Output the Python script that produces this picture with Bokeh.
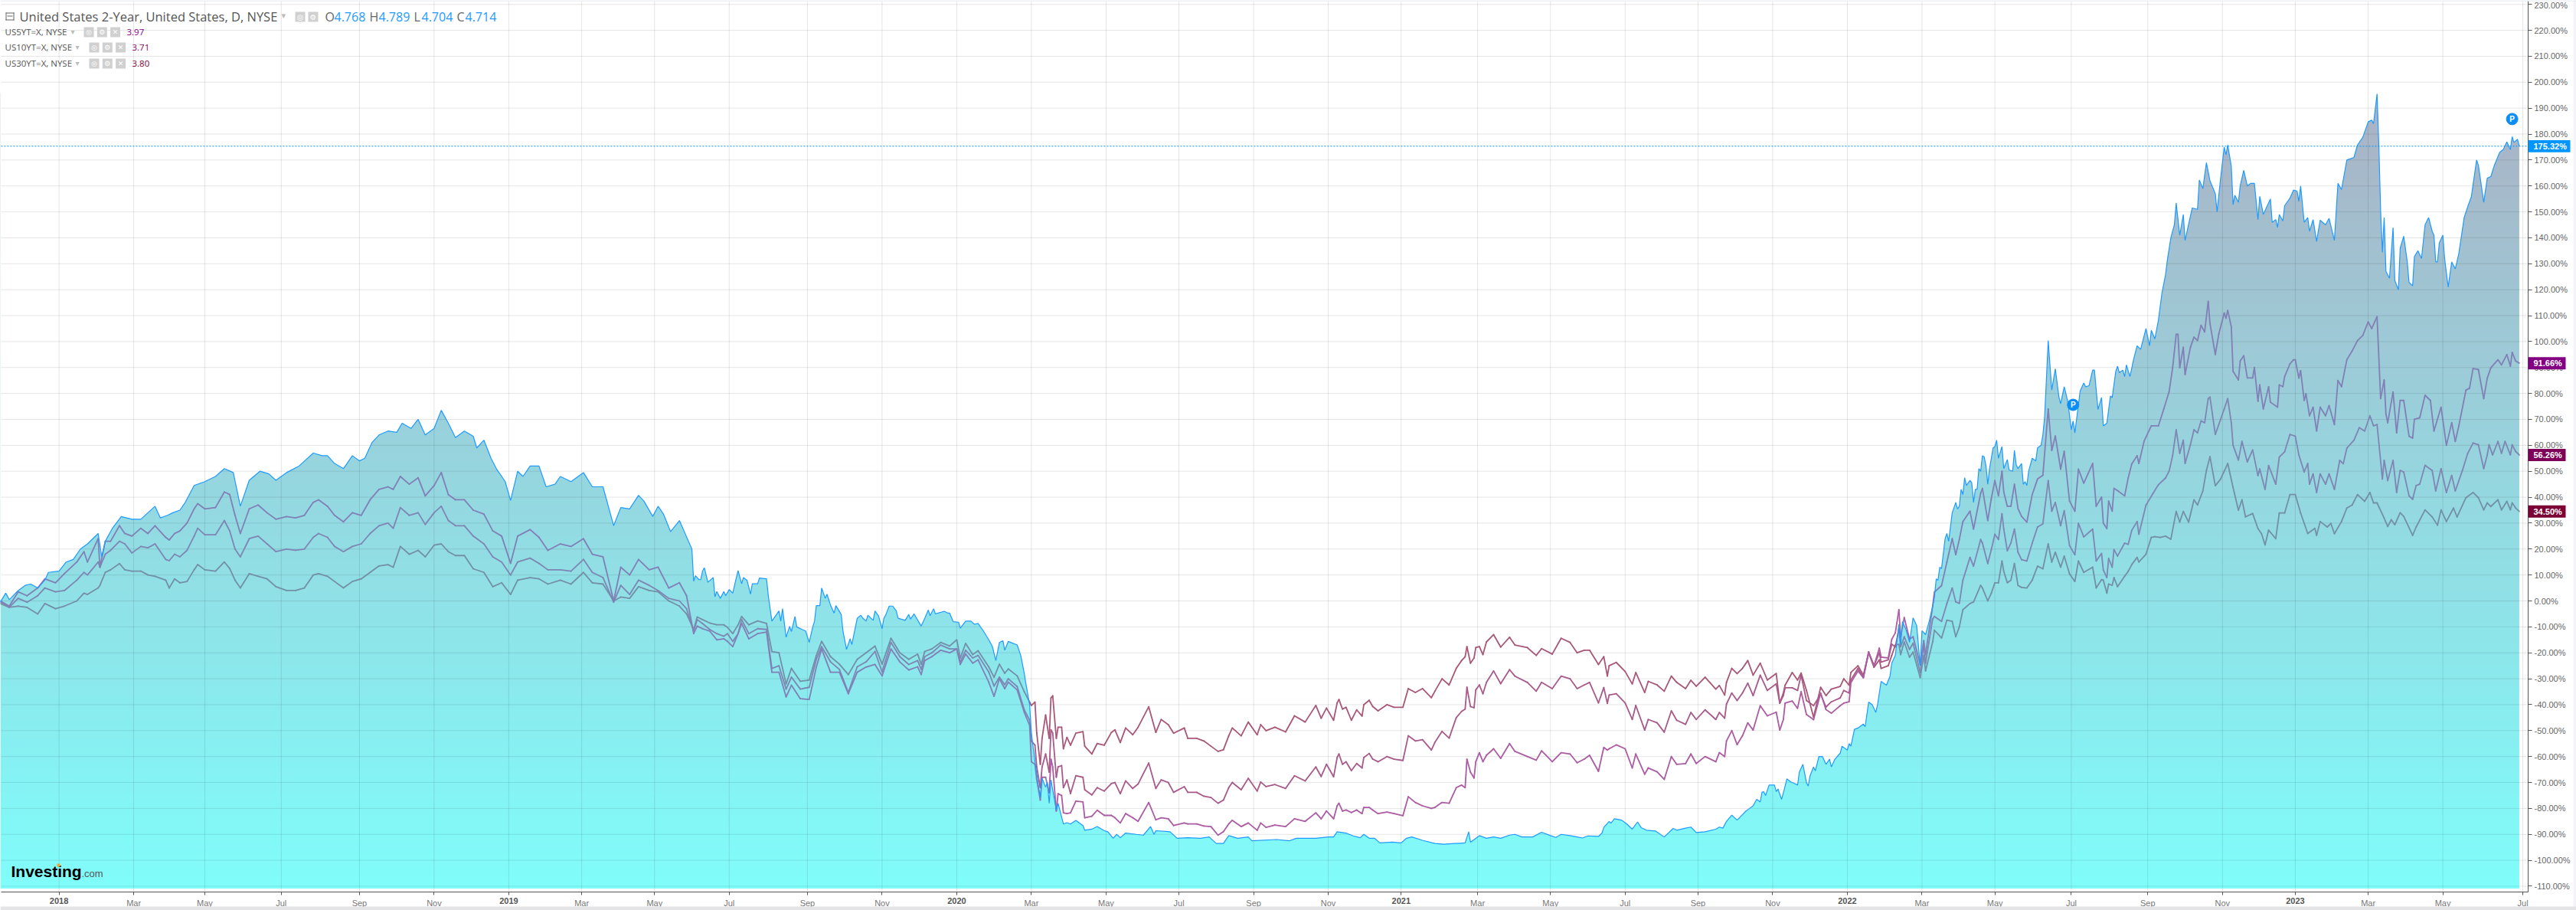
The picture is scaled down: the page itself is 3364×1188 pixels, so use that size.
import numpy as np
from bokeh.core.properties import value
from bokeh.embed import file_html
from bokeh.models import (BoxAnnotation, ColumnDataSource, FixedTicker, Label, LinearAxis,
                          PrintfTickFormatter, Range1d)
from bokeh.plotting import figure
from bokeh.resources import INLINE

# ---- x axis: trading sessions from the start of the series
TICK_SESSIONS = [33, 75, 115, 158, 202, 244, 286, 327, 368, 410, 454, 496, 538, 580, 622, 663, 705, 747,
                 788, 831, 872, 914, 955, 997, 1039, 1081, 1122, 1165, 1208, 1250, 1291, 1332, 1374, 1419]
TICK_LABELS = ["2018", "Mar", "May", "Jul", "Sep", "Nov", "2019", "Mar", "May", "Jul", "Sep", "Nov",
               "2020", "Mar", "May", "Jul", "Sep", "Nov", "2021", "Mar", "May", "Jul", "Sep", "Nov",
               "2022", "Mar", "May", "Jul", "Sep", "Nov", "2023", "Mar", "May", "Jul"]
Y_TICKS = [-110, -100, -90, -80, -70, -60, -50, -40, -30, -20, -10, 0, 10, 20, 30, 40, 50, 60, 70, 80, 90,
           100, 110, 120, 130, 140, 150, 160, 170, 180, 190, 200, 210, 220, 230]

# ---- United States 2-Year (% change)
US2_SESSION = [0, 3, 5, 10, 14, 17, 21, 25, 27, 33, 37, 41, 45, 49, 55, 57, 59, 63, 68, 74, 79, 87, 90, 94, 97, 101,
    104, 109, 115, 121, 126, 131, 135, 140, 146, 151, 155, 161, 168, 176, 181, 184, 188, 193, 198, 202, 205, 209,
    213, 218, 223, 226, 231, 235, 239, 244, 248, 252, 256, 261, 266, 268, 272, 276, 279, 284, 287, 291, 294, 298,
    303, 307, 312, 315, 321, 328, 333, 339, 345, 349, 354, 359, 362, 367, 370, 373, 377, 382, 386,
    389, 390, 391, 393, 394, 395, 396, 398, 401, 402, 403, 405, 407, 408, 410, 412, 414, 415, 417, 418, 420, 422,
    423, 426, 427, 431, 432, 434, 438, 439, 440, 442, 444, 445, 447, 448, 451, 453, 455, 457, 458, 459, 461, 462,
    464, 465, 467, 469, 470, 473, 474, 476, 478, 479, 482, 484, 485, 487, 488, 491, 492, 494, 496, 497, 498, 500,
    502, 504, 505, 509, 511, 512, 514, 518, 520, 522, 523, 525, 526, 531, 533, 534, 536, 539, 540, 543, 546, 548,
    550, 553, 556, 558, 560, 562, 564, 565, 567, 572, 574, 576, 577, 579,
    580, 582, 585, 586, 588, 589, 590, 591, 594, 595, 598, 600, 602, 605, 609, 610, 614, 617, 621, 623, 626, 628,
    630, 633, 639, 643, 647, 649, 650, 658, 662, 668, 675, 680, 684, 688, 691, 696, 702, 704, 718, 725, 729, 740,
    747, 750, 752, 757, 761, 765, 767, 770, 773, 776, 783, 788, 791, 794, 800, 807, 812, 818, 820, 824, 826, 827,
    832, 836, 840, 844, 849, 852, 856, 862, 867, 872, 875, 878, 883, 887, 890, 893, 899, 901, 902, 905, 906, 908,
    912, 915, 918, 921, 923, 926, 931, 936, 941, 943, 948, 951, 954, 959,
    965, 967, 969, 971, 974, 977, 982, 984, 986, 988, 990, 991, 992, 993, 995, 998, 999, 1000, 1002, 1003, 1005,
    1007, 1009, 1011, 1012, 1014, 1016, 1017, 1018, 1020, 1021, 1023, 1025, 1027, 1029, 1030, 1032, 1035, 1036,
    1039, 1040, 1041, 1043, 1045, 1048, 1049, 1051, 1053, 1055, 1056, 1058, 1059, 1061, 1063, 1064, 1066, 1068,
    1069, 1070, 1072, 1074, 1076, 1078, 1080, 1081, 1083, 1085, 1087,
    1088, 1089, 1090, 1091, 1092, 1094, 1095, 1096, 1098, 1100, 1101, 1102, 1103, 1104, 1105, 1106, 1108, 1109,
    1110, 1111, 1112, 1113, 1114, 1115, 1116, 1117, 1118, 1119, 1121, 1122, 1123, 1124, 1126, 1127, 1129, 1130,
    1132, 1133, 1134, 1135, 1137, 1138, 1139, 1140, 1141, 1143, 1145, 1146, 1148, 1149,
    1150, 1152, 1154, 1156, 1158, 1159, 1161, 1163, 1165, 1166, 1167, 1170, 1172, 1173, 1175, 1177, 1178, 1180,
    1182, 1183, 1185, 1187, 1188, 1190, 1191, 1192, 1194, 1195, 1196, 1198, 1200, 1202, 1204, 1207, 1209, 1210,
    1212, 1214, 1216, 1218, 1219, 1221, 1223, 1224, 1226, 1228, 1229, 1233, 1236, 1237, 1239, 1241, 1243, 1246,
    1247, 1249, 1251, 1252, 1253, 1255, 1256, 1257, 1259, 1260, 1262, 1264, 1266, 1268, 1270, 1271, 1273, 1277,
    1278, 1280, 1281, 1282, 1284, 1285, 1288, 1290, 1292, 1293, 1294, 1296, 1298, 1299, 1301, 1303, 1305, 1308,
    1310, 1313, 1315, 1317, 1320, 1324, 1326, 1329, 1332, 1334, 1335, 1337, 1338, 1339, 1340, 1341, 1342, 1344,
    1346, 1347, 1349, 1350, 1352, 1354, 1355, 1357, 1358, 1360, 1362, 1364, 1366, 1368, 1369, 1370, 1371, 1372,
    1374, 1375, 1377, 1379, 1381, 1383, 1386, 1388, 1390, 1393, 1394, 1397, 1399, 1401, 1403, 1406, 1408, 1410,
    1412, 1413, 1414, 1416, 1417]
US2_CHANGE = [-0.4, 3, 0.5, 4, 6, 6.5, 5, 8, 11, 11.5, 15, 16, 20, 22, 26, 17, 23, 28, 32.5, 31.5, 31.5, 36.5, 32, 33, 34, 35,
    38, 44.5, 46, 48, 51, 49.5, 36.5, 46.5, 50, 49, 46.5, 49.5, 52, 57, 56, 56, 53, 51, 56, 54, 55, 61,
    64, 65.5, 65, 68.5, 66.5, 70, 64, 66.5, 73.5, 68.5, 63, 65.5, 63.5, 59, 62, 55, 51, 46, 38.7, 50, 48, 52,
    52, 44, 45, 48, 46, 49.5, 44, 44, 29, 36, 35.5, 40.7, 38.5, 32.6, 36.5, 33.5, 26.7, 31, 24.7,
    20, 7.6, 9.7, 8.2, 8.2, 11.5, 12.8, 7.2, 9, 1.6, 3.6, 1, 3.6, 2, 4.4, 3, 9, 11.7, 6.6, 9, 8, 2.6,
    6.6, 6.6, 8.8, 8.5, 2, -7.8, -3.9, -7.8, -3, -14, -9.8, -11.8, -6, -10, -11, -11.6, -16, -10, -7.8, -1.8, -1.8, 5,
    1, 2.6, -1.6, -4.7, -1.8, -5.2, -11.6, -18.7, -14.6, -16.8, -6.7, -5.5, -6.5, -7.8, -5.5, -7.5, -3.9, -5.8, -10.7, -6.7, -5.5, -2,
    -2, -3.9, -6.7, -7.5, -5.2, -7, -5, -9.7, -6.7, -3.5, -5.7, -3, -5, -4, -4.7, -4.7, -8, -8.2, -10.5, -7.8, -7.8, -9,
    -8.7, -11.6, -15, -17.5, -23, -16, -15.4, -19, -15.6, -17, -21, -28, -32.3, -40,
    -51, -62, -75.8, -68.4, -71.8, -70, -78, -69, -80.7, -78, -86, -85.5, -86, -84.6, -86.6, -88.4, -88, -87, -88.6, -89, -91.5, -90,
    -91.3, -89.5, -90, -90.3, -87, -90, -88.6, -89, -91.5, -91.3, -91.5, -91, -93.5, -93.5, -90.5, -91.5, -91, -92.5, -92, -92.5, -91.5, -91.5,
    -91, -91, -89, -89.5, -90.6, -91.3, -90, -91.5, -91.5, -93.3, -93, -93.3, -91.5, -91, -92.3, -93.5, -93.8, -93.5, -93.5, -93.3, -89, -93,
    -90.5, -91.5, -91, -91.5, -90.3, -90, -91, -91, -89.2, -90.5, -91.2, -90, -90.5, -91, -91.4, -90.6, -90.8, -89.5, -87.3, -85, -85.7, -84,
    -84.5, -86, -88, -85.2, -87.4, -88.4, -88.7, -91, -87.7, -88.4, -87.6, -87.2, -89.3, -89,
    -88, -87.2, -87.6, -85, -82.6, -84.5, -81, -80, -79, -76.5, -77.5, -73.7, -73.6, -75, -71, -71, -73.5, -72.5, -76.5, -74, -68.6,
    -69.7, -70.3, -71, -66, -63, -70, -71.4, -67.5, -64, -65.5, -60, -60, -63, -61, -64, -61, -58.7, -56,
    -57.5, -55, -56, -49.5, -49, -47.5, -48.5, -39, -40, -43, -40, -31, -31.5, -32.5, -29, -24, -21, -9,
    -17, -8, -11, -16, -6.5, -9.5, -25, -11.5, -13, -8, -2,
    1.5, 8.5, 8, 13, 12.5, 24, 26, 23, 34, 38, 35.5, 36.5, 43, 41, 47.5, 44.5, 46.5, 45.5,
    38, 43, 43, 51, 50, 56, 55.5, 52, 45, 51, 59, 59.5, 62, 55, 59.5, 51, 54.5, 50.5,
    50, 58, 52.5, 51, 53, 45, 46, 44.5, 50, 55, 54, 59, 60, 64,
    71, 100.4, 81.3, 89.5, 78.7, 76, 82.6, 77, 66, 69.4, 64.8, 81, 84, 82.6, 83, 89, 89, 73.8,
    78.4, 67.5, 68.5, 79, 78.4, 88.5, 90.5, 88, 89, 86.5, 91, 86.5, 93, 98.4, 97, 105, 98.4, 104.3,
    101, 108.3, 118.8, 125.7, 131.3, 140, 145.2, 153.4, 141, 149, 139, 151.5, 151, 162.3, 159, 169, 162, 157,
    150, 163, 175, 172, 175.8, 167.6, 152.8, 156.4, 153.7, 160, 166, 160, 161, 161, 147, 156, 149, 155,
    146, 147, 144, 149, 146.5, 152.4, 155.3, 158.4, 158, 154, 160, 146, 147.8, 142.5, 147, 138.6, 146.8, 145,
    147.5, 139, 161, 158.6, 170, 171, 175.8, 178.8, 184.7, 185.4, 184, 195.5, 175.5, 150.5, 134.4, 147.8, 127, 124.4,
    143.9, 123.5, 120, 136, 140.6, 130.7, 122.8, 121.5, 132.7, 135, 132, 145, 147.8, 142.5, 141, 130.7, 130.7, 138,
    141, 132, 121, 130.7, 128, 134, 147.8, 152, 155.7, 170, 168, 153.7, 163, 163.6, 168, 173, 174, 177,
    174, 179, 176.8, 178, 175.32]

# ---- sessions shared by the 5Y, 10Y and 30Y readings up to mid-2022
SHARED_SESSION = [0, 5, 10, 15, 21, 25, 31, 36, 43, 47, 49, 55, 56, 59, 62, 67, 70, 74, 79, 83, 87, 93, 95, 98, 101, 105,
    109, 111, 115, 121, 126, 129, 132, 135, 140, 145, 150, 155, 161, 166, 171, 176, 179, 184, 188, 193, 198, 203,
    208, 213, 218, 221, 225, 230, 235, 239, 244, 248, 252, 256, 261, 266, 272, 277, 282, 287, 291, 298, 303, 308,
    315, 321, 328, 333, 339, 345, 349, 354, 359, 365, 370, 376, 382, 386,
    390, 392, 395, 399, 403, 407, 409, 412, 415, 417, 421, 426, 431, 434, 438, 442, 445, 450, 455, 459, 462, 467,
    472, 477, 482, 487, 492, 496, 501, 506, 511, 516, 518, 520, 524, 529, 534, 538, 540, 543, 547, 550, 556, 559,
    562, 565, 567, 572, 576,
    579, 580, 582, 583, 585, 586, 588, 590, 591, 592, 594, 595, 597, 598, 600, 602, 605, 609, 610, 614, 617, 621,
    625, 627, 630, 633, 637, 640, 646, 650, 653, 657, 660, 666, 668, 673, 677, 681, 685, 688, 691, 693, 698, 702,
    707, 709, 712, 717, 723, 728, 734, 740, 743, 746, 750,
    752, 753, 755, 757, 760, 763, 766, 767, 770, 772, 775, 780, 784, 789, 792, 796, 800, 805, 807, 811, 815, 819,
    822, 824, 825, 827, 829, 830, 832, 834, 836, 840, 844, 849, 852, 859, 864, 867, 873, 878, 883, 887, 891, 894,
    899, 902, 904, 905, 909, 914, 918, 920, 925, 927, 932, 936, 940, 943, 948, 951, 954, 959, 965, 967, 970, 971, 974,
    977, 980, 983, 986, 990, 994, 999, 1001, 1003, 1004, 1008, 1011, 1013, 1016, 1020, 1024, 1027, 1030, 1035, 1037,
    1040, 1041, 1045, 1048, 1051, 1054, 1057, 1058, 1062, 1064, 1066, 1068, 1069, 1071, 1074, 1076, 1080, 1082,
    1083, 1087, 1088, 1092,
    1095, 1098, 1100, 1102, 1104, 1108, 1110, 1114, 1115, 1118, 1120, 1122, 1124, 1126, 1127, 1129, 1131, 1133,
    1135, 1137, 1140, 1143, 1146, 1149, 1152, 1154, 1156, 1159, 1161, 1164, 1167, 1169, 1172, 1177, 1179, 1182,
    1183, 1185, 1186, 1188, 1189, 1191, 1195, 1197, 1199, 1202, 1203]

US5_SHARED = [0, -2, 3.5, 2, 5, 8.5, 7, 10.5, 15, 19, 15, 24, 13, 23, 23, 29, 26, 25, 28, 26, 29, 24.5, 23.5, 26, 27, 30,
    35.5, 37.5, 35.5, 36, 42, 41, 33, 26, 35.5, 37, 34, 31.5, 32.5, 32, 33, 38, 39, 36.5, 33, 30.5, 34, 33,
    39, 43, 44, 43, 48, 45, 47.5, 40.5, 44.5, 49.5, 41, 39, 39, 35, 33.5, 27, 25, 14.5, 25, 27.5, 24.5, 19.5,
    22, 21, 24, 18, 17, 0, 13, 10, 16, 12, 13, 5, 7, 2,
    -12.6, -9.7, -10.7, -11.6, -15, -14.6, -15.6, -17.6, -12.6, -8.7, -14.6, -12.6, -12, -27.5, -27.5, -37, -32.5, -37.7, -38, -25.5, -18.5, -27.5,
    -27.5, -35.8, -27.5, -25.5, -24.5, -28.9, -18.5, -23.5, -26.6, -25.4, -28.4, -23, -21.5, -19, -20, -18.5, -24.5, -20.5, -24, -22.7, -31.3, -36.8,
    -30, -33.8, -31.3, -34.3, -43,
    -48, -62, -63, -69, -76.8, -68, -68, -74, -61, -64, -81, -74.3, -75, -81.7, -82, -81.7, -77.2, -77.5, -83.6, -83, -80.7, -82.7,
    -82.7, -83.6, -85.6, -82, -83.6, -85, -77.7, -84.4, -83.6, -84, -86.6, -85.6, -86, -86, -86.8, -87, -90.3, -89, -86, -84.6, -87, -85.6,
    -88.4, -85.6, -87.3, -86.4, -87, -84, -85, -81.7, -84, -81, -84,
    -79, -78, -81, -80.6, -81.6, -80.6, -82, -79.6, -79.6, -80.6, -82, -81.4, -82, -82.8, -75.5, -77.7, -79, -80, -79.6, -77.7, -78, -72,
    -71, -72, -61, -66, -68.3, -62, -58.5, -62, -59.5, -57, -60.7, -55, -58, -60, -61.4, -57.8, -62, -58.5, -59, -62.4, -61, -59.5,
    -65.7, -56.5, -57.5, -57, -55.5, -57, -64.4, -59, -66.8, -64.4, -65.9, -68.8, -60, -63, -62.7, -59, -62.7, -60, -62, -58.5, -60, -54, -50,
    -55.4, -52, -47, -49.8, -40.4, -44.3, -42.9, -49.8, -45.8, -39.4, -38.6, -41.4, -35, -43.8, -45.8, -35.5, -41.9, -43.3, -40.4, -39.4,
    -38.9, -31.5, -27, -29.6, -19.7, -25, -18.2, -21.7, -22, -14.8, -12.3, -3.4, -13.8, -6.4, -14.8, -13.8, -24.6, -15.3,
    -20.7, -2, 3.4, 5.9,
    15, 24, 17.8, 23.7, 30.6, 34.6, 27.7, 41.5, 43.4, 31, 39.5, 46.4, 40.5, 50, 42, 36.5, 36.5, 45,
    35.6, 32.6, 30.4, 41, 47, 48.4, 74, 58, 63.6, 50.8, 57.7, 38.5, 34.6, 50.8, 45.4, 53, 36.5, 40,
    30, 27.9, 38.5, 34.6, 43.4, 42.5, 40.5, 47.4, 52.8, 56, 53]

US10_SHARED = [-0.4, -2.5, 1, -0.5, 2, 5, 3.5, 4, 8, 11, 10, 15, 13, 18, 19.5, 23, 22, 18.5, 21, 20.5, 22, 16, 15.5, 18, 17, 19.5,
    25, 28, 25.5, 25.5, 31, 27, 20, 17, 24, 25, 22, 19, 20, 19.5, 20, 24.5, 26, 24.5, 21, 19, 21, 22,
    26, 29, 30, 28, 36, 33, 34, 29.5, 34, 36.5, 31, 29, 29, 25, 22, 17, 15, 10, 15, 16.5, 14.5, 12,
    12, 11.5, 16, 11, 9, -0.5, 6, 2.5, 8, 6, 4, 1, 0, -3,
    -11.6, -7.2, -8.7, -11, -12.6, -13.6, -12.6, -15.6, -12.6, -7.2, -12.6, -10.7, -11, -26, -25, -34, -29.4, -34, -33.3, -22.5, -17.6, -23.5,
    -26.4, -35.3, -25.4, -23.5, -19.5, -27.4, -16, -21.5, -24.5, -23, -26.4, -21.5, -20, -17, -18.5, -18.5, -23.5, -19, -22, -21, -27.4, -32.8,
    -29.4, -32.3, -30, -33, -42,
    -46, -54, -55.6, -64, -72, -64, -59, -66, -49.7, -51, -68, -64, -63.5, -72, -69, -74.3, -67.4, -68, -72.8, -74.8, -72, -73.3,
    -70.4, -70, -74.3, -69.4, -72.3, -70.6, -62.5, -72.3, -69, -70, -73.8, -71.6, -73.8, -73.8, -75.3, -75.8, -78, -76.8, -72, -70, -72.8, -68.4,
    -73.3, -69.8, -71.6, -70.8, -72.3, -67.4, -69.4, -64, -67.7, -63, -67.8,
    -60.4, -59, -63, -62, -65.4, -62.7, -64.4, -60.4, -58.8, -61, -62, -60, -61, -61.5, -52, -54, -53.5, -57.5, -54.5, -50.3, -52.9, -45,
    -42.6, -41.7, -33.3, -40.7, -41.2, -34.3, -32.4, -35.8, -31.4, -27, -31.9, -26.5, -29, -31.4, -34.8, -31.4, -33.8, -29, -30, -33.8, -32.4, -31.4,
    -39.3, -33.4, -39.5, -36.3, -35.8, -39.3, -45.7, -40.3, -49.8, -45.7, -47, -50.6, -42.4, -46, -47.6, -43, -45.7, -42, -45.7, -43, -45.2, -39.8, -35.5,
    -38.4, -35.5, -31.7, -36.5, -28.6, -34.5, -32, -39.4, -36.5, -33.5, -33.5, -34.5, -28.6, -38.4, -40.4, -36, -40.9, -38.9, -37.4, -34.5,
    -35.5, -30.5, -26, -29.6, -19.7, -25, -20, -23.6, -22.7, -16.7, -17.7, -10.8, -17.7, -13.8, -18.7, -16.3, -27.6, -16.7,
    -24, -7, -6, -7.9,
    -1, 5, -0.4, -0.9, 8, 16.8, 13.4, 23.7, 22.3, 14.4, 19.8, 25.7, 23.7, 33.6, 27.7, 19.3, 22.3, 27.7,
    18.8, 15.9, 15.4, 22.3, 28.5, 29.7, 46.4, 34.6, 38, 29, 34.8, 21.3, 17.8, 29.9, 24.7, 27.7, 15.4, 18.3,
    11.9, 9, 16.4, 13, 19.8, 17.3, 22.3, 21.8, 27.2, 30.6, 25.7]

US30_SHARED = [-1, -2.5, -2, -2.5, -5, -1, -3, -2, 0, 3, 2.5, 5, 6, 11, 12, 14.4, 12, 11.5, 11.5, 10, 9.5, 8, 5, 8.5, 7, 7.5,
    12, 14, 12, 11.5, 15, 12.5, 8, 5, 10.5, 9.5, 8.5, 5.5, 4, 4, 5, 10, 10.5, 9.5, 7.5, 5, 7.5, 8.5,
    11, 13.5, 14, 13, 21, 18, 19.5, 17, 21.5, 22, 19, 17.5, 17.5, 12.4, 11, 5.5, 7, 2.5, 8, 9, 8.5, 6.5,
    8, 6.5, 11, 7, 6.5, 0, 1.5, 1, 5.5, 4, 3.5, 0, -2, -5,
    -11, -6.2, -7.2, -8.5, -9.2, -9.2, -10.2, -12.6, -9.2, -6, -9.2, -7.7, -8.7, -19.5, -20, -32, -26, -31, -30.5, -21, -15.6, -21.5,
    -24.4, -28.4, -22.5, -20, -17.4, -24.4, -14.4, -20, -22.5, -20.5, -24.4, -19.5, -18.5, -16, -17.4, -15, -22, -16.4, -20.7, -19.2, -25.4, -29.4,
    -24.4, -27.9, -26.2, -28.9, -35,
    -39, -40.3, -39, -51, -63, -53, -44, -53, -37.4, -36.6, -53, -48.7, -48.7, -57, -52.6, -55.6, -51, -50.4, -56, -59, -55, -55.6,
    -50.7, -49.7, -54.6, -49, -51.6, -48.7, -40.8, -50.7, -45.7, -47.7, -51, -49, -53, -53, -54, -56, -58, -57.4, -52, -49, -52, -46.7,
    -51.6, -47.7, -50, -48.7, -50.5, -44.3, -46.7, -40.3, -45.2, -41.3, -46,
    -39.3, -38, -41.7, -41, -46, -42, -44.4, -40, -38.3, -40.7, -42.4, -40, -41, -41, -33.8, -35.3, -33.8, -37.3, -34.8, -30, -32.4, -26,
    -23, -21.5, -17.6, -24, -22, -18, -17.6, -20.7, -15.8, -13, -17.8, -14, -17, -18, -21, -18.4, -20.5, -14.4, -16, -20, -19, -19,
    -24.5, -21.5, -29, -25, -23.7, -27.2, -32, -27.6, -35.3, -31, -32.4, -34.8, -29, -31.4, -33.8, -30.6, -32.9, -29.4, -34, -32.6, -36.3, -31.4, -26,
    -28, -26, -23, -28.6, -24, -30.5, -28, -39.4, -35.5, -32.5, -27.6, -30.5, -27.8, -34.5, -44.8, -33.3, -36.5, -34, -33, -30,
    -32.5, -27.6, -25, -28.6, -20, -25.6, -22.7, -26, -25, -21, -17, -16.7, -20.7, -15.8, -21.7, -19.7, -29.6, -21,
    -27, -15.8, -11.3, -14.3,
    -7.4, -7.9, -13.8, -10, -3.4, -1, -0.4, 6, 5, 0, 3, 7, 7, 15.4, 11.4, 7, 8, 14.4,
    6, 5.2, 5, 8, 13.4, 12.4, 22, 15, 18.8, 13, 17.3, 10.4, 7.5, 15.4, 11, 13, 5, 8.2,
    8, 3, 6.5, 6, 9, 5.5, 9.5, 11.4, 14, 16.8, 15]

# ---- readings after mid-2022, each series on its own sessions
US5_TAIL_SESSION = [1206, 1210, 1214, 1217, 1220, 1222, 1224, 1225, 1226, 1228, 1229, 1232, 1234, 1236, 1238, 1240, 1242, 1243,
    1246, 1248, 1251, 1252, 1253, 1255, 1256, 1259, 1260, 1262, 1264, 1267, 1268, 1270, 1271, 1273, 1276, 1277, 1281, 1282,
    1284, 1285, 1288, 1290, 1291, 1293, 1294, 1296, 1297, 1299, 1301, 1303, 1305, 1308, 1310, 1313, 1315, 1317, 1320, 1323,
    1326, 1329, 1332, 1334, 1337, 1339, 1341, 1342, 1343, 1346, 1348, 1350, 1352, 1355, 1357, 1358, 1361, 1364, 1367, 1369,
    1373, 1376, 1379, 1381, 1383, 1387, 1389, 1391, 1394, 1397, 1399, 1401, 1405, 1407, 1410, 1412, 1413, 1415, 1417]
US5_TAIL = [61.7, 67.5, 67.5, 74, 80.6, 89.9, 102.8, 102.8, 89.9, 97.8, 87.3, 97.8, 101.7, 100.4, 106.3, 103.7, 115.5, 107,
    95, 103, 111, 109, 112, 105.7, 88.5, 85.2, 92.5, 94.5, 86, 86, 90, 77, 83.3, 74, 82.6, 76.6, 74.7, 83.3,
    82.6, 86.5, 91.4, 93, 93, 85.9, 88.8, 77.3, 79.9, 71.4, 74.7, 65.5, 74.7, 71.4, 75.3, 68, 85, 82.6, 93, 96.4,
    100.4, 102.4, 107.6, 105, 109.6, 78, 85.2, 72, 68.7, 80.6, 64.8, 77.3, 77.3, 63.5, 62.8, 70, 70.6, 79.3, 77.3, 65.5,
    74.7, 60, 68.7, 61.5, 67.5, 81.3, 82, 89.6, 89.2, 78, 85.9, 89.9, 93, 91, 95, 90.5, 95.8, 92.5, 91.66]

US10_TAIL_SESSION = [1207, 1211, 1214, 1218, 1220, 1222, 1224, 1226, 1228, 1229, 1232, 1234, 1236, 1238, 1240, 1242, 1243, 1246,
    1249, 1251, 1253, 1255, 1256, 1259, 1261, 1264, 1267, 1270, 1271, 1274, 1276, 1280, 1282, 1285, 1288, 1291, 1293, 1296,
    1298, 1299, 1301, 1303, 1305, 1308, 1310, 1313, 1316, 1318, 1320, 1324, 1327, 1330, 1333, 1335, 1337, 1340, 1341, 1343,
    1346, 1348, 1350, 1352, 1355, 1357, 1359, 1361, 1364, 1368, 1370, 1373, 1376, 1379, 1381, 1385, 1388, 1391, 1394, 1397,
    1399, 1400, 1402, 1405, 1407, 1409, 1412, 1413, 1415, 1417]
US10_TAIL = [36.9, 41.5, 44.8, 47.4, 50, 56, 66, 56.9, 62, 53, 60.2, 66, 64.8, 69.4, 68.7, 78, 78.6, 64.2,
    70, 74, 78, 68.7, 60, 54.3, 61.5, 53.6, 58.2, 48.3, 50.9, 43, 52.2, 45, 55.5, 57.5, 64.2, 63.5, 56.3, 49.7,
    53, 45, 49, 41.8, 49, 45, 49, 43, 54.2, 52.9, 58.9, 62, 66.8, 65.5, 71.4, 67.5, 68, 47, 54.2, 46.4,
    54.2, 41.8, 50.3, 49.7, 40.5, 39.2, 44.5, 45, 52.3, 50.3, 42.4, 51, 41.8, 48.4, 42.4, 50.3, 56.9, 60.9, 60.2, 51,
    56.3, 60.2, 56.3, 61.5, 56.9, 61.5, 56.3, 60.2, 57.6, 56.26]

US30_TAIL_SESSION = [1207, 1210, 1212, 1215, 1218, 1221, 1224, 1226, 1228, 1231, 1234, 1236, 1239, 1241, 1243, 1246, 1249, 1253,
    1256, 1259, 1261, 1263, 1267, 1270, 1272, 1274, 1276, 1280, 1282, 1285, 1288, 1291, 1294, 1298, 1302, 1303, 1305, 1309,
    1311, 1313, 1317, 1320, 1323, 1326, 1330, 1333, 1335, 1337, 1341, 1343, 1345, 1347, 1350, 1352, 1357, 1359, 1364, 1368,
    1371, 1373, 1376, 1380, 1382, 1387, 1391, 1394, 1397, 1399, 1401, 1405, 1407, 1410, 1412, 1413, 1415, 1417]
US30_TAIL = [18, 24.5, 24.8, 24.5, 25, 23.8, 34.5, 30.4, 34.5, 30.4, 39, 37, 42.4, 50.3, 55.6, 44.4, 47, 53,
    43.7, 35, 39, 32.4, 33.7, 27.9, 25.9, 21.6, 27.3, 24, 33.9, 33.9, 41, 41, 33.9, 26, 28, 25.3, 30.6, 28.5,
    29.9, 25.9, 30.6, 35.8, 37, 41, 38.4, 41.8, 37.8, 37.8, 31.9, 28.7, 31.3, 29.4, 34, 32.6, 25.3, 28.5, 35.1, 32.4,
    29.2, 35.1, 30.6, 35.8, 32.4, 39.8, 41.8, 39.8, 35.1, 37.8, 36.4, 39, 35.1, 38.4, 35.1, 37.8, 35.8, 34.5]

LAST_VALUES = {"2Y": 175.32, "5Y": 91.66, "10Y": 56.26, "30Y": 34.50}
NOTE_SESSION = [1166, 1413]
NOTE_VALUE = [75.6, 185.8]

# ---- layout in page pixels (the frame fills the figure; the axes sit at fixed places inside it)
W, H = 3364, 1188
AX_X_PX, AX_Y_PX = 3301, 1164
PX_PER_SESSION = 2.3214
Y0_PX, PX_PER_PCT = 784.0, 3.386
FONT = "Liberation Sans"
HEAD = "Open Sans"
BLUE = "#0095ff"

AX_SESSION = AX_X_PX / PX_PER_SESSION
AX_VALUE = (Y0_PX - AX_Y_PX) / PX_PER_PCT
TOP_VALUE = (Y0_PX - 1) / PX_PER_PCT

p = figure(width=W, height=H, output_backend="svg", toolbar_location=None,
           x_range=Range1d(0, W / PX_PER_SESSION), y_range=Range1d((Y0_PX - H) / PX_PER_PCT, Y0_PX / PX_PER_PCT),
           x_axis_type=None, y_axis_type=None, min_border=0,
           outline_line_color=None, background_fill_color="white", border_fill_color="white")

xax = LinearAxis(ticker=FixedTicker(ticks=TICK_SESSIONS), fixed_location=AX_VALUE, bounds=(0.4, AX_SESSION),
                 axis_line_color="#555555", axis_line_width=1,
                 major_tick_line_color="#555555", major_tick_out=4, major_tick_in=0, minor_tick_line_color=None,
                 major_label_text_font=FONT, major_label_text_font_size="11px", major_label_text_color="#777777",
                 major_label_standoff=4,
                 major_label_overrides={t: (l if not l.isdigit() else " ") for t, l in zip(TICK_SESSIONS, TICK_LABELS)})
p.add_layout(xax, "below")
yax = LinearAxis(ticker=FixedTicker(ticks=Y_TICKS), formatter=PrintfTickFormatter(format="%.2f%%"),
                 fixed_location=AX_SESSION, bounds=(AX_VALUE, TOP_VALUE),
                 axis_line_color="#555555", axis_line_width=1, major_tick_line_color="#555555",
                 major_tick_out=5, major_tick_in=0, minor_tick_line_color=None,
                 major_label_text_font=FONT, major_label_text_font_size="11px", major_label_text_color="#666666",
                 major_label_standoff=3)
p.add_layout(yax, "right")

# gradient under the 2-year line: image below, white mask above the series
FILL_LOW, FILL_HIGH = -110.9, 196.0
c0, c1 = np.array([0x80, 0xFD, 0xFB]), np.array([0xAB, 0xB2, 0xC5])
t = np.linspace(0, 1, 256)
rgb = (c0[None, :] * (1 - t[:, None]) + c1[None, :] * t[:, None]).astype(np.uint32)
img = (255 << 24 | rgb[:, 2] << 16 | rgb[:, 1] << 8 | rgb[:, 0]).astype(np.uint32).reshape(256, 1)
p.image_rgba(image=[img], x=[0], y=[FILL_LOW], dw=[US2_SESSION[-1]], dh=[FILL_HIGH - FILL_LOW], level="image")
p.varea(x=US2_SESSION, y1=US2_CHANGE, y2=[240] * len(US2_SESSION), fill_color="white", fill_alpha=1.0, level="underlay")

# grid shows through the area, so it goes over it
p.segment(x0=TICK_SESSIONS, x1=TICK_SESSIONS, y0=[AX_VALUE] * len(TICK_SESSIONS), y1=[TOP_VALUE] * len(TICK_SESSIONS),
          line_color="#000000", line_alpha=0.10, line_width=1, level="underlay")
p.segment(x0=[0.4] * len(Y_TICKS), x1=[AX_SESSION] * len(Y_TICKS), y0=Y_TICKS, y1=Y_TICKS,
          line_color="#000000", line_alpha=0.10, line_width=1, level="underlay")


def draw_yield(x, y, over_white, under_area):
    x, y = np.asarray(x, float), np.asarray(y, float)
    mx, my = (x[:-1] + x[1:]) / 2, (y[:-1] + y[1:]) / 2
    under = my <= np.interp(mx, US2_SESSION, US2_CHANGE)
    src = ColumnDataSource(dict(x0=x[:-1], x1=x[1:], y0=y[:-1], y1=y[1:],
                                c=[under_area if u else over_white for u in under]))
    p.segment("x0", "y0", "x1", "y1", source=src, line_color="c", line_width=1.8, line_cap="round")


draw_yield(SHARED_SESSION + US30_TAIL_SESSION, US30_SHARED + US30_TAIL, "#a85876", "#7390a8")
draw_yield(SHARED_SESSION + US10_TAIL_SESSION, US10_SHARED + US10_TAIL, "#a85a8a", "#7e86b3")
draw_yield(SHARED_SESSION + US5_TAIL_SESSION, US5_SHARED + US5_TAIL, "#ab5ca3", "#8080b6")

p.line(US2_SESSION, US2_CHANGE, line_color="#1e9aff", line_width=1.2)
p.line([0.4, AX_SESSION], [LAST_VALUES["2Y"]] * 2, line_color=BLUE, line_width=1, line_dash="2 2")

p.scatter(NOTE_SESSION, NOTE_VALUE, size=15, marker="circle", fill_color="#0b8ef5", line_color="#0b8ef5")
p.text(NOTE_SESSION, NOTE_VALUE, text=["P", "P"], text_color="white", text_font=value(FONT), text_font_style="bold",
       text_font_size="10px", text_align="center", text_baseline="middle")


def box(l, r, t_, b, color):
    p.add_layout(BoxAnnotation(left=l, right=r, top=t_, bottom=b, left_units="canvas", right_units="canvas",
                               top_units="canvas", bottom_units="canvas", fill_color=color, fill_alpha=1.0,
                               line_color=None, editable=False))


def txt(x, y, s, color="#555555", size="11px", font=FONT, style="normal", align="left"):
    p.add_layout(Label(x=x, y=H - y, x_units="screen", y_units="screen", text=s, text_color=color,
                       text_font_size=size, text_font=font, text_font_style=style, text_align=align,
                       text_baseline="middle"))


def tag(val, right, color):
    p.add_layout(BoxAnnotation(left=AX_X_PX, right=right, top=val + 2.36, bottom=val - 2.36, left_units="canvas",
                               right_units="canvas", top_units="data", bottom_units="data", fill_color=color,
                               fill_alpha=1.0, line_color=None, editable=False))
    p.add_layout(Label(x=AX_X_PX + 7, y=val, x_units="screen", y_units="data", text=f"{val:.2f}%", text_color="white",
                       text_font=FONT, text_font_size="11px", text_font_style="bold", text_baseline="middle"))


# page furniture
box(3360, W, 0, H, "#f3f3f8")
box(0, W, 1183, H, "#e4e4e7")
box(0, W, 0, 1, "#dfe3ea")

# year labels
for s, l in zip(TICK_SESSIONS, TICK_LABELS):
    if l.isdigit():
        p.add_layout(Label(x=s, y=H - 1175, x_units="data", y_units="screen", text=l, text_color="#555555",
                           text_font=FONT, text_font_size="11px", text_font_style="bold", text_align="center",
                           text_baseline="middle"))

# last-value tags
tag(LAST_VALUES["2Y"], 3356, BLUE)
tag(LAST_VALUES["5Y"], 3350, "#820082")
tag(LAST_VALUES["10Y"], 3350, "#7e0058")
tag(LAST_VALUES["30Y"], 3350, "#7d0034")

# legend header
for a, b_, c_, d_ in [(7, 18, 16, 17), (7, 18, 25, 26), (7, 8, 16, 26), (17, 18, 16, 26), (9, 16, 20, 21)]:
    box(a, b_, c_, d_, "#666666")
txt(25, 21, "United States 2-Year, United States, D, NYSE", "#555555", "16.5px", HEAD)
txt(367, 20, "▾", "#bbbbbb", "11px", "DejaVu Sans")
for l_ in (385, 402):
    box(l_, l_ + 13, 15, 28, "#d0d0d0")
txt(391.5, 21.5, "◎", "white", "10px", "DejaVu Sans", align="center")
txt(408.5, 21.5, "⚙", "white", "10px", "DejaVu Sans", align="center")
for x_, s_, col in [(424, "O", "#666666"), (436, "4.768", "#1e9aff"), (482, "H", "#666666"), (494, "4.789", "#1e9aff"),
                    (540, "L", "#666666"), (550, "4.704", "#1e9aff"), (596, "C", "#666666"), (607, "4.714", "#1e9aff")]:
    txt(x_, 21, s_, col, "16px", HEAD)

ROWS = [("US5YT=X, NYSE", "3.97", "#8b008b", 41, 92, 109, 165),
        ("US10YT=X, NYSE", "3.71", "#8b0060", 61, 98, 116, 172),
        ("US30YT=X, NYSE", "3.80", "#800035", 82, 98, 116, 172)]
for name, val, col, y_, arrow, icon, vx in ROWS:
    txt(6, y_, name, "#555555", "11.5px", HEAD)
    txt(arrow, y_, "▾", "#bbbbbb", "10px", "DejaVu Sans")
    for k, g in enumerate(["◎", "⚙", "✕"]):
        lx = icon + k * 17.3
        box(lx, lx + 13, y_ - 6, y_ + 7, "#d0d0d0")
        txt(lx + 6.5, y_ + 0.5, g, "white", "9px", "DejaVu Sans", align="center")
    txt(vx, y_, val, col, "11.5px", HEAD)

# Investing.com mark
txt(14, 1137, "Investing", "#000000", "21px", FONT, "bold")
txt(106, 1140, ".com", "#555555", "13px", FONT)
box(74, 78, 1127, 1131, "#f5a623")

open("out.html", "w").write(file_html(p, INLINE))
